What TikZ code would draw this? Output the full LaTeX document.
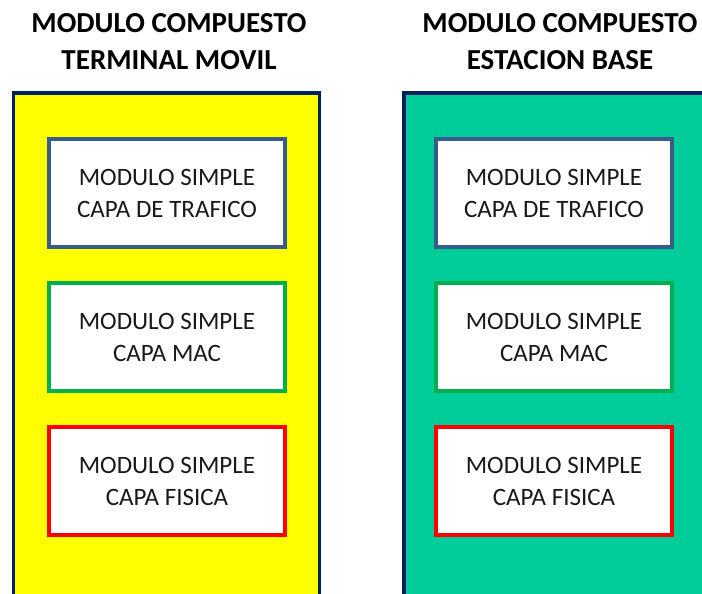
\documentclass[tikz,border=0pt]{standalone}
\usepackage{fontspec}
\setmainfont{Carlito}
\usetikzlibrary{positioning}
\definecolor{navy}{RGB}{0,32,96}
\definecolor{moduleyellow}{RGB}{255,255,0}
\definecolor{modulegreen}{RGB}{0,204,153}
\definecolor{trafblue}{RGB}{56,93,138}
\definecolor{macgreen}{RGB}{0,176,80}
\definecolor{fisred}{RGB}{255,0,0}

\begin{document}
\begin{tikzpicture}[x=1pt,y=-1pt,node distance=32pt,
	compound node/.style={draw=navy,line width=3.5pt,minimum width=306pt,minimum height=530pt,anchor=north},
	simple node/.style={fill=white,line width=4pt,minimum width=236pt,minimum height=108pt,align=center,text=black!90,font=\fontsize{25}{32}\selectfont},
	title node/.style={align=center,font=\bfseries\fontsize{29}{37}\selectfont}]
		\useasboundingbox (0,0) rectangle (702,594);
		\clip (0,0) rectangle (702,594);
		\node[title node] (t1) at (169,42) {MODULO COMPUESTO\\TERMINAL MOVIL};
		\node[title node] (t2) at (560,42) {MODULO COMPUESTO\\ESTACION BASE};
		
		\node[compound node,fill=moduleyellow] (mt) at (166.5,91.5) {};
		\node[compound node,fill=modulegreen] (eb) at (557,91.5) {};
		
		\node[simple node,draw=trafblue] (1) at (167,193) {MODULO SIMPLE\\CAPA DE TRAFICO};
		\node[simple node,draw=macgreen] (2) [below=of 1] {MODULO SIMPLE\\CAPA MAC};
		\node[simple node,draw=fisred] (3) [below=of 2] {MODULO SIMPLE\\CAPA FISICA};
		
		\node[simple node,draw=trafblue] (4) at (554,193) {MODULO SIMPLE\\CAPA DE TRAFICO};
		\node[simple node,draw=macgreen] (5) [below=of 4] {MODULO SIMPLE\\CAPA MAC};
		\node[simple node,draw=fisred] (6) [below=of 5] {MODULO SIMPLE\\CAPA FISICA};
\end{tikzpicture}
\end{document}
